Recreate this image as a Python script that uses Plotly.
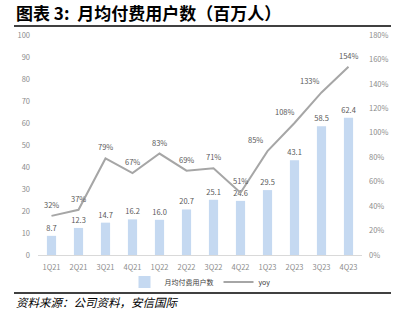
import plotly.graph_objects as go

categories = ["1Q21", "2Q21", "3Q21", "4Q21", "1Q22", "2Q22", "3Q22", "4Q22", "1Q23", "2Q23", "3Q23", "4Q23"]
users = [8.7, 12.3, 14.7, 16.2, 16.0, 20.7, 25.1, 24.6, 29.5, 43.1, 58.5, 62.4]
yoy = [0.32, 0.37, 0.79, 0.67, 0.83, 0.69, 0.71, 0.51, 0.85, 1.08, 1.33, 1.54]

W, H = 399, 326
L, R, T, B = 38, 37, 35, 71
pw, ph = W - L - R, H - T - B

def px(x):
    return (x - L) / pw

def py(y):
    return (H - B - y) / ph

FONT = "Noto Sans CJK SC, DejaVu Sans, sans-serif"
GRAY = "#8c8c8c"

# label nudges (pixels) for the yoy labels on the steep part of the line
label_xshift = {"1Q23": -12, "2Q23": -10, "3Q23": -12}

fig = go.Figure()
fig.add_trace(go.Bar(
    x=categories, y=users, name="月均付费用户数",
    marker=dict(color="#C5D9F1", line=dict(width=0)),
    text=[f"{v:.1f}" for v in users], textposition="outside", constraintext="none",
    textfont=dict(size=7.5, color="#595959", family=FONT),
    cliponaxis=False, yaxis="y",
))
fig.add_trace(go.Scatter(
    x=categories, y=yoy, name="yoy", mode="lines",
    line=dict(color="#A6A6A6", width=2),
    cliponaxis=False, yaxis="y2",
))
for c, v in zip(categories, yoy):
    fig.add_annotation(x=c, y=v, xref="x", yref="y2", text=f"{v*100:.0f}%", showarrow=False,
                       yshift=5 if c == "4Q22" else 4, xshift=label_xshift.get(c, 0), yanchor="bottom",
                       font=dict(size=7.5, color="#595959", family=FONT))

fig.update_layout(
    width=W, height=H,
    margin=dict(l=L, r=R, t=T, b=B),
    paper_bgcolor="white", plot_bgcolor="white",
    font=dict(family=FONT, color=GRAY, size=7.5),
    bargap=0.66,
    showlegend=True,
    legend=dict(orientation="h", x=0.5, xanchor="center", y=py(282), yanchor="middle",
                font=dict(size=7, color="#404040"), itemwidth=30, tracegroupgap=0,
                bgcolor="rgba(0,0,0,0)"),
    xaxis=dict(showline=True, linecolor="#D9D9D9", linewidth=1, ticks="", showgrid=False,
               tickfont=dict(size=7.5, color=GRAY), ticklabelstandoff=5),
    yaxis=dict(range=[0, 100], dtick=10, showgrid=False, zeroline=False, showline=False,
               tickfont=dict(size=7.5, color=GRAY), ticklabelstandoff=7),
    yaxis2=dict(range=[0, 1.8], dtick=0.2, tickformat=".0%", overlaying="y", side="right",
                showgrid=False, zeroline=False, showline=False,
                tickfont=dict(size=7.5, color=GRAY), ticklabelstandoff=6),
)

fig.add_annotation(xref="paper", yref="paper", x=px(14), y=py(13), xanchor="left", yanchor="middle",
                   text="<b>图表 3:  月均付费用户数（百万人）</b>", showarrow=False,
                   font=dict(size=17, color="#000000", family=FONT))
fig.add_annotation(xref="paper", yref="paper", x=px(14), y=py(302), xanchor="left", yanchor="middle",
                   text="<i>资料来源：公司资料，安信国际</i>", showarrow=False,
                   font=dict(size=11.5, color="#000000", family=FONT))
fig.add_shape(type="line", xref="paper", yref="paper", x0=px(14), x1=px(391), y0=py(26), y1=py(26),
              line=dict(color="#404040", width=2))
fig.add_shape(type="line", xref="paper", yref="paper", x0=px(14), x1=px(391), y0=py(293), y1=py(293),
              line=dict(color="#404040", width=2))

fig.write_html("out.html")
